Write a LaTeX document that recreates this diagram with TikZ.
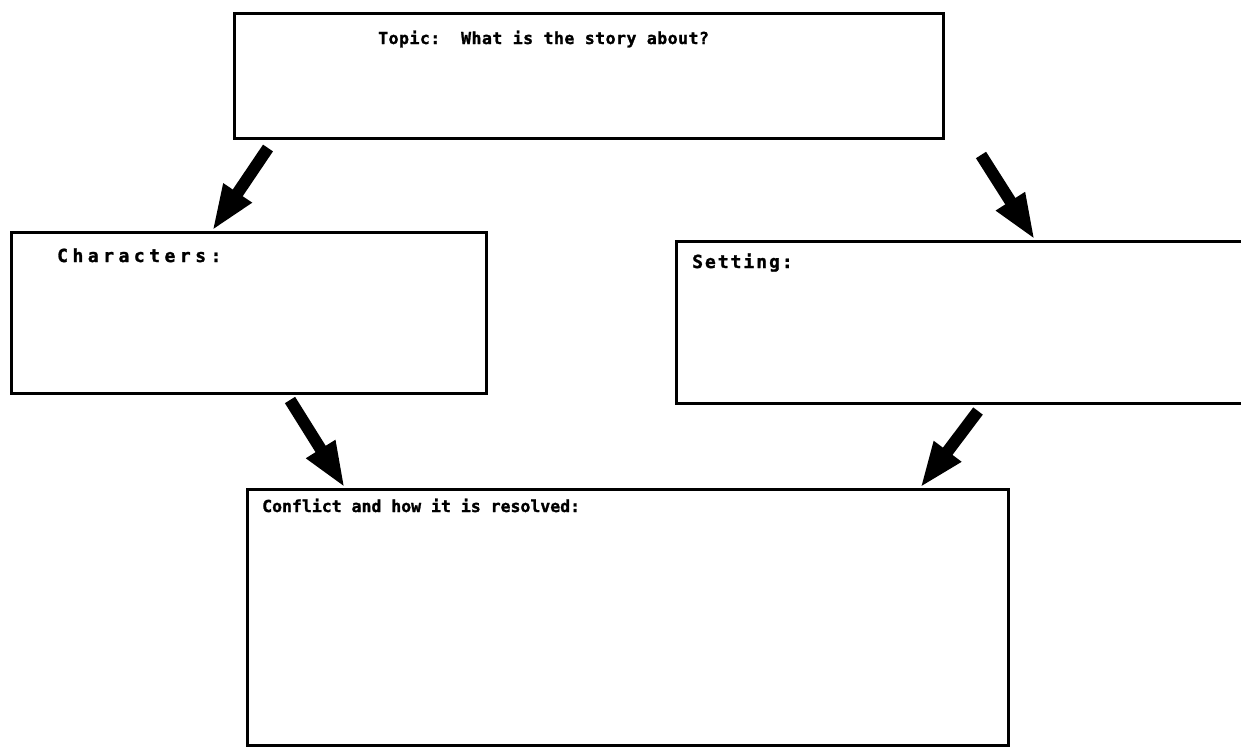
\documentclass[tikz,border=0pt]{standalone}
\usepackage{fontspec}
\newfontfamily\labelfont{DejaVu Sans Mono}[BoldFont={DejaVu Sans Mono Bold},BoldFeatures={FakeBold=1.5}]
\usetikzlibrary{arrows.meta,calc}
\tikzset{
  boxnode/.style={draw=black, line width=3pt, inner sep=0pt, anchor=north west, fill=white},
  boxlabel/.style={anchor=base west, inner sep=0pt, font=\labelfont\bfseries\fontsize{16.5}{20}\selectfont},
  biglabel/.style={boxlabel, font=\labelfont\bfseries\fontsize{18}{22}\selectfont},
  bigarrow/.style={line width=12pt, -{Triangle[length=46pt,width=31pt]}}
}
\begin{document}
\begin{tikzpicture}[x=1pt,y=-1pt]
\clip (0,0) rectangle (1241,747);
\fill[white] (0,0) rectangle (1241,747);
% boxes
\node[boxnode, minimum width=709pt, minimum height=125pt] (topic) at (233,12) {};
\node[boxnode, minimum width=475pt, minimum height=161pt] (chars) at (10,231) {};
\node[boxnode, minimum width=600pt, minimum height=162pt] (setting) at (675,240) {};
\node[boxnode, minimum width=761pt, minimum height=256pt] (conflict) at (246,488) {};
% labels
\node[boxlabel] (ttopic) at (378,44) {\addfontfeature{LetterSpace=3}Topic:\ \ What is the story about?};
\node[biglabel] (tchars) at (57,262) {\addfontfeature{LetterSpace=25}Characters:};
\node[biglabel] (tsetting) at (692,268) {\addfontfeature{LetterSpace=11}Setting:};
\node[boxlabel] (tconflict) at (262,512) {Conflict and how it is resolved:};
% arrow end points
\coordinate (s1) at ([shift={(35,8)}]topic.south west);
\coordinate (e1) at ([shift={(202,0)}]chars.north west);
\coordinate (s2) at ([shift={(36,15)}]topic.south east);
\coordinate (e2) at ([shift={(360,0)}]setting.north west);
\coordinate (s3) at ([shift={(280,5)}]chars.south west);
\coordinate (e3) at ([shift={(99,0)}]conflict.north west);
\coordinate (s4) at ([shift={(303,6)}]setting.south west);
\coordinate (e4) at ([shift={(674,0)}]conflict.north west);
% arrows
\draw[bigarrow] (s1) -- (e1);
\draw[bigarrow] (s2) -- (e2);
\draw[bigarrow] (s3) -- (e3);
\draw[bigarrow] (s4) -- (e4);
\end{tikzpicture}
\end{document}
